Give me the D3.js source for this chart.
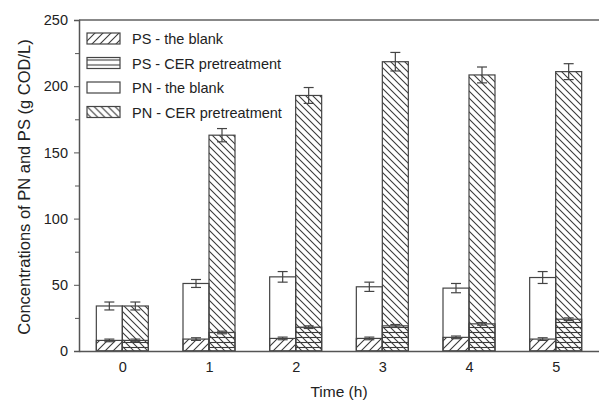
<!DOCTYPE html>
<html>
<head>
<meta charset="utf-8">
<script src="https://cdn.jsdelivr.net/npm/d3@7"></script>
<style>
body { margin: 0; background: #fff; }
text { font-family: "Liberation Sans", Arial, sans-serif; fill: #222; }
</style>
</head>
<body>
<svg id="chart" width="599" height="402"></svg>
<script>
// data (g COD/L)
var times = [0, 1, 2, 3, 4, 5];
var pnBlank = [34, 51, 56, 48.5, 47.5, 55.5];
var pnBlankErr = [3, 3, 4, 3.5, 3.5, 4.5];
var pnCer = [34, 163, 193, 218.5, 208.5, 211];
var pnCerErr = [3, 5, 6, 7, 6, 6];
var psBlank = [8, 9, 9.5, 9.5, 10.3, 9];
var psCer = [8, 14, 18, 19, 20.5, 24];
var psErr = [1, 1, 1, 1, 1, 1];
var yTicks = [0, 50, 100, 150, 200, 250];
var legendLabels = ["PS - the blank", "PS - CER pretreatment", "PN - the blank", "PN - CER pretreatment"];

var svg = d3.select("#chart");
var plotL = 79, plotR = 599, plotT = 20, plotB = 351;

var x = d3.scaleLinear().domain([-0.5, 5.5]).range([plotL, plotR]);
var y = d3.scaleLinear().domain([0, 250]).range([plotB, plotT]);
var bw = 26;

// hatch patterns
var defs = svg.append("defs");
function hatch(id, size, path, sw) {
  var p = defs.append("pattern").attr("id", id)
    .attr("patternUnits", "userSpaceOnUse")
    .attr("width", size).attr("height", size);
  p.append("path").attr("d", path).attr("stroke", "#3a3a3a")
    .attr("stroke-width", sw).attr("fill", "none");
}
hatch("fwd", 8, "M-2,2 L2,-2 M0,8 L8,0 M6,10 L10,6", 1.1);
hatch("back", 7, "M-2,5 L2,9 M0,0 L7,7 M5,-2 L9,2", 1.1);
hatch("horiz", 5, "M0,2.5 L5,2.5", 1.1);

// top frame line
svg.append("line").attr("x1", plotL).attr("x2", plotR)
  .attr("y1", plotT).attr("y2", plotT)
  .attr("stroke", "#888").attr("stroke-width", 2);

// PN bars from zero, PS laid over their base
function bars(vals, dx, fill) {
  svg.append("g").selectAll("rect").data(vals).enter().append("rect")
    .attr("x", function(d, i) { return x(times[i]) + dx; })
    .attr("y", function(d) { return y(d); })
    .attr("width", bw)
    .attr("height", function(d) { return y(0) - y(d); })
    .attr("fill", fill)
    .attr("stroke", "#444").attr("stroke-width", 1.2);
}
bars(pnBlank, -bw, "#fff");
bars(pnCer, 0, "url(#back)");
bars(psBlank, -bw, "url(#fwd)");
bars(psCer, 0, "url(#horiz)");

// error bars
function errs(vals, e, dx) {
  var g = svg.append("g").attr("stroke", "#444").attr("stroke-width", 1.2);
  vals.forEach(function(d, i) {
    var cx = x(times[i]) + dx;
    g.append("line").attr("x1", cx).attr("x2", cx)
      .attr("y1", y(d - e[i])).attr("y2", y(d + e[i]));
    g.append("line").attr("x1", cx - 5).attr("x2", cx + 5)
      .attr("y1", y(d + e[i])).attr("y2", y(d + e[i]));
    g.append("line").attr("x1", cx - 5).attr("x2", cx + 5)
      .attr("y1", y(d - e[i])).attr("y2", y(d - e[i]));
  });
}
errs(pnBlank, pnBlankErr, -bw / 2);
errs(pnCer, pnCerErr, bw / 2);
errs(psBlank, psErr, -bw / 2);
errs(psCer, psErr, bw / 2);

// axes
svg.append("g").attr("transform", "translate(" + plotL + ",0)")
  .call(d3.axisLeft(y).tickValues(yTicks).tickSize(5).tickPadding(6));
svg.append("g").attr("transform", "translate(" + plotL + ",0)")
  .call(d3.axisLeft(y).tickValues(d3.range(25, 250, 50)).tickSize(4).tickFormat(""))
  .select(".domain").remove();
svg.append("g").attr("transform", "translate(0," + plotB + ")")
  .call(d3.axisBottom(x).tickValues(times).tickSize(0).tickPadding(11).tickFormat(d3.format("d")));
svg.selectAll(".domain").attr("stroke", "#555").attr("stroke-width", 1.5);
svg.selectAll(".tick line").attr("stroke", "#555");
svg.selectAll(".tick text").style("font-size", "14.5px").attr("fill", "#222")
  .style("font-family", "Liberation Sans, Arial, sans-serif");

// axis titles
svg.append("text").attr("x", 339).attr("y", 397).attr("text-anchor", "middle")
  .style("font-size", "15.5px").text("Time (h)");
svg.append("text").attr("transform", "translate(30,187) rotate(-90)")
  .attr("text-anchor", "middle").style("font-size", "16.5px")
  .text("Concentrations of PN and PS (g COD/L)");

// legend
var fills = ["url(#fwd)", "url(#horiz)", "#fff", "url(#back)"];
var lg = svg.append("g").selectAll("g").data(legendLabels).enter().append("g")
  .attr("transform", function(d, i) { return "translate(87," + (33 + i * 24.5) + ")"; });
lg.append("rect").attr("width", 33).attr("height", 11)
  .attr("fill", function(d, i) { return fills[i]; })
  .attr("stroke", "#444").attr("stroke-width", 1.2);
lg.append("text").attr("x", 45).attr("y", 11).style("font-size", "14.5px")
  .text(function(d) { return d; });
</script>
</body>
</html>
